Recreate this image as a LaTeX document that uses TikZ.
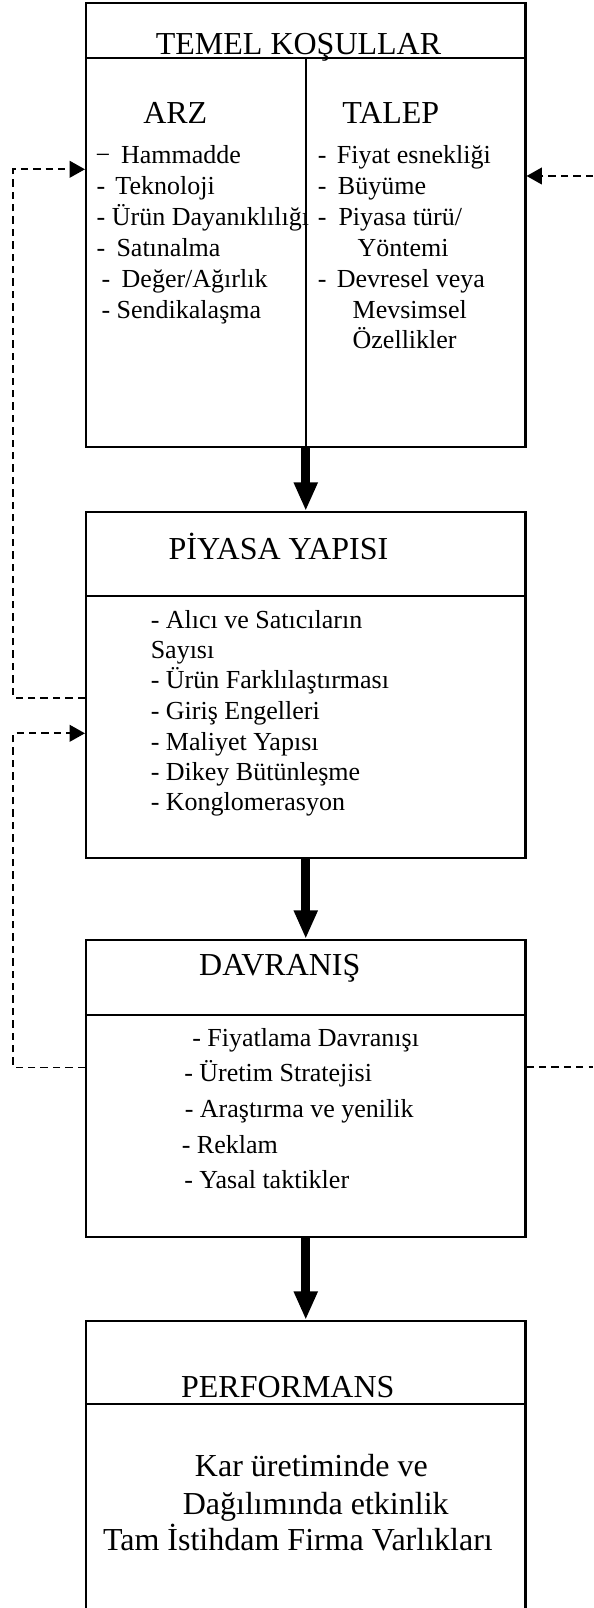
\documentclass[tikz,border=0pt]{standalone}
\usepackage{fontspec}
\setmainfont{Liberation Serif}
\usetikzlibrary{arrows.meta}
\begin{document}
\begin{tikzpicture}[x=0.75pt,y=-0.75pt,
  box/.style={draw,line width=1.6pt,inner sep=0pt,minimum width=329.6pt},
  rule/.style={line width=1.6pt},
  bigarrow/.style={line width=6.75pt,-{Triangle[length=21.5pt,width=16.7pt]}},
  fb/.style={line width=1.4pt,dash pattern=on 5.5pt off 3.8pt},
  fbarrow/.style={fb,-{Triangle[length=11.5pt,width=12.5pt]}},
  head/.style={font=\fontsize{24}{28}\selectfont,inner sep=0pt,anchor=base},
  item/.style={font=\fontsize{19.5}{23}\selectfont,inner sep=0pt,anchor=base west},
  ptext/.style={font=\fontsize{24}{28}\selectfont,inner sep=0pt,anchor=base west}]
\useasboundingbox (0,0) rectangle (593,1608);
\fill[white] (0,0) rectangle (593,1608);

% boxes
\node[box,minimum height=333.45pt] (temel) at (305.75,225) {};
\node[box,minimum height=259.7pt] (piyasa) at (305.75,685.15) {};
\node[box,minimum height=223pt] (davranis) at (305.75,1088.65) {};
\node[box,minimum height=218.25pt] (perf) at (305.75,1466.5) {};

% helper coordinates
\coordinate (h1) at (0,58.3);
\coordinate (h2) at (0,596);
\coordinate (h3) at (0,1015);
\coordinate (h4) at (0,1404.3);
\coordinate (xl) at (13.3,0);
\coordinate (c1) at (0,697.7);
\coordinate (c2) at (0,169.3);
\coordinate (c3) at (0,1067.5);
\coordinate (c4) at (0,733.3);
\coordinate (rtop) at (593,176);
\coordinate (rbot) at (593,1067.3);

% header rules
\draw[rule] (temel.west |- h1) -- (temel.east |- h1);
\draw[rule] (temel.south |- h1) -- (temel.south);
\draw[rule] (piyasa.west |- h2) -- (piyasa.east |- h2);
\draw[rule] (davranis.west |- h3) -- (davranis.east |- h3);
\draw[rule] (perf.west |- h4) -- (perf.east |- h4);

% main arrows
\draw[bigarrow] (temel.south) -- (piyasa.north);
\draw[bigarrow] (piyasa.south) -- (davranis.north);
\draw[bigarrow] (davranis.south) -- (perf.north);

% feedback lines
\draw[fbarrow] (piyasa.west |- c1) -| (xl |- c2) -- (temel.west |- c2);
\draw[fbarrow] (davranis.west |- c3) -| (xl |- c4) -- (piyasa.west |- c4);
\draw[fbarrow] (rtop) -- (temel.east |- rtop);
\draw[fb] (davranis.east |- rbot) -- (rbot);

% TEMEL KOSULLAR
\node[head] (t1) at (298.5,55) {TEMEL KOŞULLAR};
\node[ptext] (arz) at (143,124) {ARZ};
\node[ptext] (talep) at (342,124) {TALEP};
\node[item] (a1) at (95.3,163.3) {−\hspace{8.2pt}Hammadde};
\node[item] (a2) at (96.4,195) {-\hspace{7.6pt}Teknoloji};
\node[item] (a3) at (96.4,225.7) {- Ürün Dayanıklılığı};
\node[item] (a4) at (96.4,256.7) {-\hspace{8.4pt}Satınalma};
\node[item] (a5) at (101.3,287.3) {-\hspace{8.6pt}Değer/Ağırlık};
\node[item] (a6) at (101.3,318.3) {- Sendikalaşma};
\node[item] (b1) at (317.6,163.3) {-\hspace{7.8pt}Fiyat esnekliği};
\node[item] (b2) at (317.6,195) {-\hspace{8.6pt}Büyüme};
\node[item] (b3) at (317.6,225.7) {-\hspace{9pt}Piyasa türü/};
\node[item] (b4) at (357.3,256.7) {Yöntemi};
\node[item] (b5) at (317.6,287.3) {-\hspace{7.8pt}Devresel veya};
\node[item] (b6) at (352.4,318.3) {Mevsimsel};
\node[item] (b7) at (352.4,348.3) {Özellikler};

% PIYASA YAPISI
\node[head] (t2) at (278.5,559.3) {PİYASA YAPISI};
\node[item] (p1) at (150.5,628.3) {- Alıcı ve Satıcıların};
\node[item] (p2) at (150.5,658.3) {Sayısı};
\node[item] (p3) at (150.5,688.3) {- Ürün Farklılaştırması};
\node[item] (p4) at (150.5,719.3) {- Giriş Engelleri};
\node[item] (p5) at (150.5,750) {- Maliyet Yapısı};
\node[item] (p6) at (150.5,780.7) {- Dikey Bütünleşme};
\node[item] (p7) at (150.5,810.7) {- Konglomerasyon};

% DAVRANIS
\node[head] (t3) at (279.8,975) {DAVRANIŞ};
\node[item] (d1) at (192,1046.7) {- Fiyatlama Davranışı};
\node[item] (d2) at (184,1081.7) {- Üretim Stratejisi};
\node[item] (d3) at (184.5,1117.3) {- Araştırma ve yenilik};
\node[item] (d4) at (181.5,1153.3) {- Reklam};
\node[item] (d5) at (184,1188.3) {- Yasal taktikler};

% PERFORMANS
\node[head] (t4) at (287.8,1397.3) {PERFORMANS};
\node[ptext] (e1) at (194.7,1476.7) {Kar üretiminde ve};
\node[ptext] (e2) at (182.6,1514) {Dağılımında etkinlik};
\node[ptext] (e3) at (102.8,1550.7) {Tam İstihdam Firma Varlıkları};
\end{tikzpicture}
\end{document}
